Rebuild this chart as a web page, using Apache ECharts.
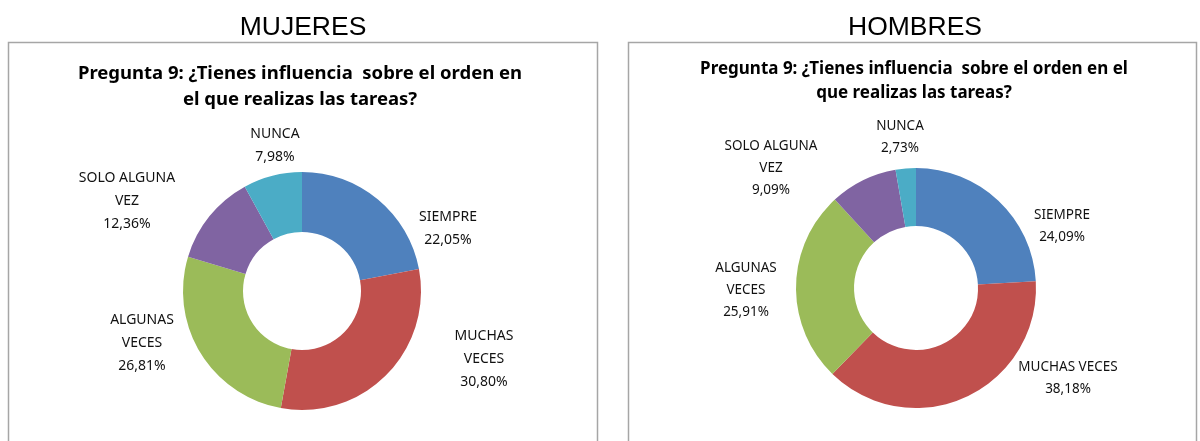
<!DOCTYPE html>
<html>
<head>
<meta charset="utf-8">
<script src="https://cdn.jsdelivr.net/npm/echarts@6/dist/echarts.min.js"></script>
<style>
  html, body { margin: 0; padding: 0; background: #fff; }
  #chart-container { width: 1200px; height: 441px; }
</style>
</head>
<body>
<div id="chart-container"></div>
<script>
// categories (same order in both charts, clockwise from 12 o'clock)
var categories = ['SIEMPRE', 'MUCHAS VECES', 'ALGUNAS VECES', 'SOLO ALGUNA VEZ', 'NUNCA'];
// how the label text is wrapped in each chart
var mujeresLabels = ['SIEMPRE', 'MUCHAS\nVECES', 'ALGUNAS\nVECES', 'SOLO ALGUNA\nVEZ', 'NUNCA'];
var hombresLabels = ['SIEMPRE', 'MUCHAS VECES', 'ALGUNAS\nVECES', 'SOLO ALGUNA\nVEZ', 'NUNCA'];
// percentages
var mujeresValues = [22.05, 30.80, 26.81, 12.36, 7.98];
var hombresValues = [24.09, 38.18, 25.91, 9.09, 2.73];

var colors = ['#4F81BD', '#C0504D', '#9BBB59', '#8064A2', '#4BACC6'];
var questionTitleM = 'Pregunta 9: ¿Tienes influencia  sobre el orden en\nel que realizas las tareas?';
var questionTitleH = 'Pregunta 9: ¿Tienes influencia  sobre el orden en el\nque realizas las tareas?';

// label placement (offset of label centre from the donut centre), like Excel's "best fit"
var mujeresLabelOffset = [[146, -62], [182, 68], [-160, 52], [-175, -90], [-27, -145]];
var hombresLabelOffset = [[146, -62], [152, 90], [-170, 2], [-145, -120], [-16, -151]];

var labelFont = "'Noto Sans', sans-serif";

function buildData(values, labels) {
  return values.map(function (v, i) {
    return {
      value: v,
      name: categories[i],
      label: { formatter: labels[i] + '\n' + v.toFixed(2).replace('.', ',') + '%' }
    };
  });
}

function donut(center, radius, values, labels, offsets, fontSize, lineHeight) {
  return {
    type: 'pie',
    center: center,
    radius: radius,
    startAngle: 90,
    clockwise: true,
    avoidLabelOverlap: false,
    silent: true,
    itemStyle: { borderWidth: 0 },
    label: {
      show: true,
      position: 'outside',
      color: '#111',
      fontSize: fontSize,
      lineHeight: lineHeight,
      fontFamily: labelFont
    },
    labelLine: { show: false },
    labelLayout: function (params) {
      var o = offsets[params.dataIndex];
      return {
        x: center[0] + o[0],
        y: center[1] + o[1],
        align: 'center',
        verticalAlign: 'middle'
      };
    },
    data: buildData(values, labels)
  };
}

var dom = document.getElementById('chart-container');
var myChart = echarts.init(dom, null, { renderer: 'canvas' });

var option = {
  color: colors,
  animation: false,
  title: [
    { text: 'MUJERES', left: 298, top: 9, textAlign: 'center',
      textStyle: { fontFamily: 'Liberation Sans, Arial', fontWeight: 'normal', fontSize: 26.5, color: '#000' } },
    { text: 'HOMBRES', left: 910, top: 9, textAlign: 'center',
      textStyle: { fontFamily: 'Liberation Sans, Arial', fontWeight: 'normal', fontSize: 26.5, color: '#000' } },
    { text: questionTitleM, left: 295, top: 56, textAlign: 'center',
      textStyle: { fontFamily: labelFont, fontWeight: 'bold', fontSize: 18.5, lineHeight: 26, color: '#000' } },
    { text: questionTitleH, left: 909, top: 52, textAlign: 'center',
      textStyle: { fontFamily: labelFont, fontWeight: 'bold', fontSize: 17, lineHeight: 24, color: '#000' } }
  ],
  graphic: [
    { type: 'rect', shape: { x: 8.5, y: 42.5, width: 589, height: 420 },
      style: { fill: 'none', stroke: '#A6A6A6', lineWidth: 1.5 } },
    { type: 'rect', shape: { x: 628.5, y: 42.5, width: 568, height: 420 },
      style: { fill: 'none', stroke: '#A6A6A6', lineWidth: 1.5 } }
  ],
  series: [
    donut([302, 291], [59, 119], mujeresValues, mujeresLabels, mujeresLabelOffset, 14, 23),
    donut([916, 288], [62, 120], hombresValues, hombresLabels, hombresLabelOffset, 13.5, 22)
  ]
};

myChart.setOption(option);
window.addEventListener('resize', myChart.resize);
</script>
</body>
</html>
